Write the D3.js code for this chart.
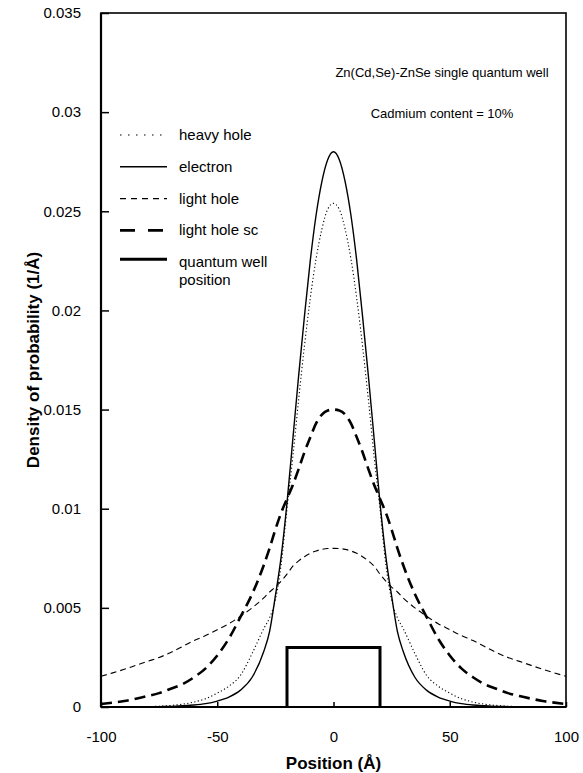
<!DOCTYPE html>
<html>
<head>
<meta charset="utf-8">
<style>
body { margin: 0; background: #fff; }
svg { font-family: 'Liberation Sans', Arial, sans-serif; }
</style>
</head>
<body>
<svg></svg>
<script src="https://d3js.org/d3.v7.min.js"></script>
<script>

const fullWidth = 583;
const fullHeight = 773;
const margin = {top: 13, right: 17, bottom: 66, left: 101};
const width = fullWidth - margin.left - margin.right;
const height = fullHeight - margin.top - margin.bottom;

// position in Angstrom
const positions = [-100, -95, -90, -85, -80, -75, -70, -65, -60, -55, -50, -45, -40, -35,
    -30, -27.5, -25, -22.5, -20, -17.5, -15, -12.5, -10, -7.5, -5, -2.5, 0,
    2.5, 5, 7.5, 10, 12.5, 15, 17.5, 20, 22.5, 25, 27.5, 30,
    35, 40, 45, 50, 55, 60, 65, 70, 75, 80, 85, 90, 95, 100];

// density of probability (1/A)
const heavyHole = [0, 0, 0.000005, 0.00001, 0.00002, 0.00004, 0.00008, 0.00014, 0.00025, 0.00042, 0.0007, 0.00105, 0.0016, 0.0027,
    0.00395, 0.0045, 0.0054, 0.0072, 0.0100, 0.0126, 0.0155, 0.0182, 0.0206, 0.0226, 0.0241, 0.0251, 0.0254,
    0.0251, 0.0241, 0.0226, 0.0206, 0.0182, 0.0155, 0.0126, 0.0100, 0.0072, 0.0054, 0.0045, 0.00395,
    0.0027, 0.0016, 0.00105, 0.0007, 0.00042, 0.00025, 0.00014, 0.00008, 0.00004, 0.00002, 0.00001, 0.000005, 0, 0];

const electron = [0, 0, 0, 0.000005, 0.00001, 0.00002, 0.00003, 0.00006, 0.0001, 0.00017, 0.0003, 0.0005, 0.00085, 0.0015,
    0.0028, 0.0038, 0.0056, 0.0076, 0.0103, 0.0135, 0.0167, 0.0197, 0.0225, 0.0248, 0.0265, 0.0276, 0.0280,
    0.0276, 0.0265, 0.0248, 0.0225, 0.0197, 0.0167, 0.0135, 0.0103, 0.0076, 0.0056, 0.0038, 0.0028,
    0.0015, 0.00085, 0.0005, 0.0003, 0.00017, 0.0001, 0.00006, 0.00003, 0.00002, 0.00001, 0.000005, 0, 0, 0];

const lightHole = [0.00155, 0.00172, 0.0019, 0.0021, 0.0023, 0.0025, 0.00275, 0.00305, 0.00335, 0.0036, 0.0039, 0.0042, 0.00458, 0.005,
    0.0055, 0.0058, 0.00605, 0.00635, 0.0067, 0.0071, 0.00737, 0.00758, 0.00775, 0.00787, 0.00795, 0.00799, 0.0080,
    0.00799, 0.00795, 0.00787, 0.00775, 0.00758, 0.00737, 0.0071, 0.0067, 0.00635, 0.00605, 0.0058, 0.0055,
    0.005, 0.00458, 0.0042, 0.0039, 0.0036, 0.00335, 0.00305, 0.00275, 0.0025, 0.0023, 0.0021, 0.0019, 0.00172, 0.00155];

const lightHoleSc = [0.00015, 0.00022, 0.0003, 0.00042, 0.00055, 0.0007, 0.00092, 0.00115, 0.0015, 0.00195, 0.0026, 0.00345, 0.00455, 0.0057,
    0.00715, 0.0080, 0.00895, 0.0098, 0.0105, 0.0112, 0.0120, 0.01285, 0.0136, 0.0143, 0.01475, 0.01495, 0.0150,
    0.01495, 0.01475, 0.0143, 0.0136, 0.01285, 0.0120, 0.0112, 0.0105, 0.0098, 0.00895, 0.0080, 0.00715,
    0.0057, 0.00455, 0.00345, 0.0026, 0.00195, 0.0015, 0.00115, 0.00092, 0.0007, 0.00055, 0.00042, 0.0003, 0.00022, 0.00015];

// quantum well: edges in A and drawn height
const wellX = [-20, -20, 20, 20];
const wellY = [0, 0.003, 0.003, 0];

const xTicks = [-100, -50, 0, 50, 100];
const xTickLabels = ['-100', '-50', '0', '50', '100'];
const yTicks = [0, 0.005, 0.01, 0.015, 0.02, 0.025, 0.03, 0.035];
const yTickLabels = ['0', '0.005', '0.01', '0.015', '0.02', '0.025', '0.03', '0.035'];

const seriesNames = ['heavy hole', 'electron', 'light hole', 'light hole sc', 'quantum well'];

const svg = d3.select('svg')
    .attr('width', fullWidth)
    .attr('height', fullHeight);

const g = svg.append('g')
    .attr('transform', `translate(${margin.left},${margin.top})`);

const x = d3.scaleLinear().domain([-100, 100]).range([0, width]);
const y = d3.scaleLinear().domain([0, 0.035]).range([height, 0]);

svg.append('defs').append('clipPath').attr('id', 'plot')
    .append('rect').attr('width', width).attr('height', height);

const styles = [
    {data: heavyHole, width: 1.1, dash: '1.2,2.4', legendDash: '1.5,6.5'},
    {data: electron, width: 1.4, dash: null, legendDash: null},
    {data: lightHole, width: 1.1, dash: '6,4', legendDash: '6,5'},
    {data: lightHoleSc, width: 2.6, dash: '11,6', legendDash: '15,13'},
];

const line = d3.line()
    .x((d, i) => x(positions[i]))
    .y(d => y(d))
    .curve(d3.curveMonotoneX);

const curves = g.append('g').attr('clip-path', 'url(#plot)');

styles.forEach(s => {
    curves.append('path')
        .attr('d', line(s.data))
        .attr('fill', 'none')
        .attr('stroke', '#000')
        .attr('stroke-width', s.width)
        .attr('stroke-dasharray', s.dash);
});

const wellLine = d3.line()
    .x((d, i) => x(wellX[i]))
    .y(d => y(d));

g.append('path')
    .attr('d', wellLine(wellY))
    .attr('fill', 'none')
    .attr('stroke', '#000')
    .attr('stroke-width', 3)
    .attr('stroke-linejoin', 'miter');

// axes, ticks pointing inwards
const yAxis = g.append('g')
    .call(d3.axisLeft(y)
        .tickValues(yTicks)
        .tickFormat((d, i) => yTickLabels[i])
        .tickSize(-8)
        .tickPadding(20));

const xAxis = g.append('g')
    .attr('transform', `translate(0,${height})`)
    .call(d3.axisBottom(x)
        .tickValues(xTicks)
        .tickFormat((d, i) => xTickLabels[i])
        .tickSize(-5)
        .tickPadding(24));

[yAxis, xAxis].forEach(a => {
    a.select('.domain').remove();
    a.selectAll('.tick line').attr('stroke', '#000').attr('stroke-width', 1.5);
    a.selectAll('text')
        .attr('font-family', "'Liberation Sans', Arial, sans-serif")
        .attr('font-size', 15)
        .attr('fill', '#000');
});

// frame
g.append('rect')
    .attr('width', width)
    .attr('height', height)
    .attr('fill', 'none')
    .attr('stroke', '#000')
    .attr('stroke-width', 1.6);

g.append('line')
    .attr('x1', 0).attr('x2', 0)
    .attr('y1', 0).attr('y2', height)
    .attr('stroke', '#000').attr('stroke-width', 2.2);

g.append('line')
    .attr('x1', 0).attr('x2', width)
    .attr('y1', height).attr('y2', height)
    .attr('stroke', '#000').attr('stroke-width', 2.2);

// axis titles
svg.append('text')
    .attr('x', margin.left + x(0))
    .attr('y', 769)
    .attr('text-anchor', 'middle')
    .attr('font-weight', 'bold')
    .attr('font-size', 17)
    .text('Position (Å)');

svg.append('text')
    .attr('transform', `translate(39,${margin.top + height / 2}) rotate(-90)`)
    .attr('text-anchor', 'middle')
    .attr('font-weight', 'bold')
    .attr('font-size', 17)
    .text('Density of probability (1/Å)');

// annotation
svg.append('text')
    .attr('x', 442)
    .attr('y', 77)
    .attr('text-anchor', 'middle')
    .attr('font-size', 13)
    .text('Zn(Cd,Se)-ZnSe single quantum well');

svg.append('text')
    .attr('x', 442)
    .attr('y', 118)
    .attr('text-anchor', 'middle')
    .attr('font-size', 13)
    .text('Cadmium content = 10%');

// legend
const legend = svg.append('g').attr('transform', 'translate(120,135)');
const rowGap = 31.8;

seriesNames.forEach((name, i) => {
    const row = legend.append('g').attr('transform', `translate(0,${i * rowGap})`);
    const s = styles[i];
    row.append('line')
        .attr('x1', 0).attr('x2', 47)
        .attr('y1', i === 4 ? -3 : 0).attr('y2', i === 4 ? -3 : 0)
        .attr('stroke', '#000')
        .attr('stroke-width', s ? s.width : 3)
        .attr('stroke-dasharray', s ? s.legendDash : null);
    const t = row.append('text')
        .attr('x', 59)
        .attr('y', 5)
        .attr('font-size', 15);
    if (i === 4) {
        t.append('tspan').attr('x', 59).text('quantum well');
        t.append('tspan').attr('x', 59).attr('dy', 18).text('position');
    } else {
        t.text(name);
    }
});

</script>
</body>
</html>
